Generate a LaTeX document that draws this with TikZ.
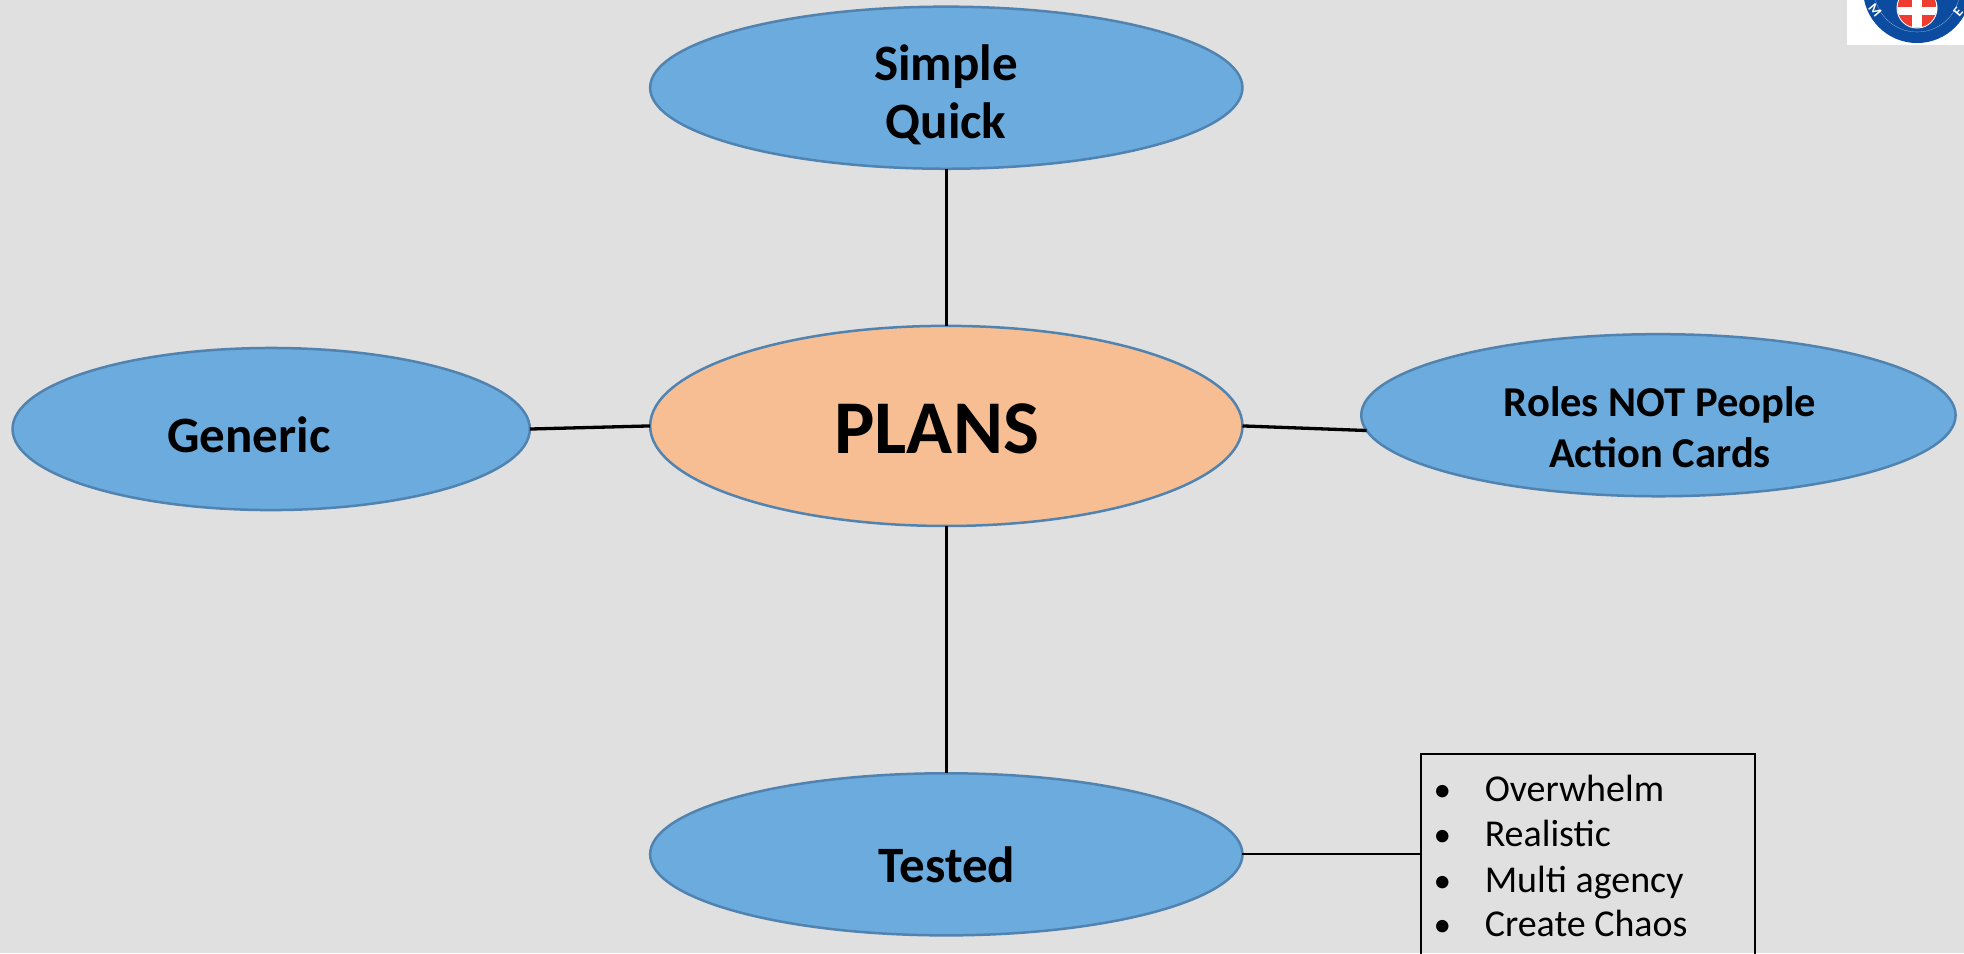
\documentclass[tikz,border=0pt]{standalone}
\usepackage{fontspec}
\usepackage{xcolor}
\setmainfont{Carlito}
\usetikzlibrary{shapes.geometric}
\definecolor{pagegray}{HTML}{E0E0E0}
\definecolor{ovalblue}{HTML}{6CABDD}
\definecolor{ovalline}{HTML}{5083AF}
\definecolor{ovalorange}{HTML}{F7BE94}
\definecolor{crestblue}{HTML}{0B4CA0}
\definecolor{crestred}{HTML}{EE3D30}

\begin{document}
\begin{tikzpicture}[x=0.01cm,y=-0.01cm,
	oval/.style={ellipse,draw=ovalline,fill=ovalblue,line width=0.25mm,inner sep=0,outer sep=0,minimum width=5.92cm,minimum height=1.62cm},
	label14/.style={anchor=base,font=\fontsize{14.5pt}{0}\selectfont\bfseries},
	label11/.style={anchor=base,font=\fontsize{12.1pt}{0}\selectfont\bfseries},
	item/.style={anchor=base west,font=\fontsize{10.8pt}{0}\selectfont},
	spoke/.style={line width=0.33mm}]

	\useasboundingbox (0,0) rectangle (1964,953);
	\clip (0,0) rectangle (1964,953);
	\fill[pagegray] (0,0) rectangle (1964,953);

	% crest in the corner
	\fill[white] (1847,0) rectangle (1964,44.7);
	\fill[crestblue] (1917,-11) circle (54);
	\draw[white,line width=0.01mm] (1917,-11) circle (43);
	\fill[white] (1917,8) circle (20.5);
	\begin{scope}
		\clip (1917,8) circle (19.5);
		\fill[crestred] (1897,-12) rectangle (1937,28);
		\fill[white] (1911.5,-12) rectangle (1922,28);
		\fill[white] (1897,7) rectangle (1937,15);
	\end{scope}
	\node[rotate=-50,text=white,font=\fontsize{4pt}{0}\selectfont\bfseries,inner sep=0] (crestm) at (1875,10) {M};
	\node[rotate=50,text=white,font=\fontsize{4pt}{0}\selectfont\bfseries,inner sep=0] (creste) at (1958,12) {E};

	% ovals
	\node[oval,fill=ovalorange,minimum height=2cm] (plans) at (946.3,425.9) {};
	\node[oval] (simple) at (946.3,87.7) {};
	\node[oval,minimum width=5.17cm] (generic) at (271.2,429) {};
	\node[oval,minimum width=5.94cm] (roles) at (1658.4,415.2) {};
	\node[oval] (tested) at (946.3,854.3) {};

	% spokes
	\draw[spoke] (simple) -- (plans);
	\draw[spoke] (plans) -- (tested);
	\draw[spoke] (generic.east) -- (plans.west);
	\draw[spoke] (plans.east) -- (roles.183.7);

	% labels
	\node[anchor=base,font=\fontsize{21.6pt}{0}\selectfont\bfseries] (planstext) at (936.7,453.5) {PLANS};
	\node[label14] (simpletext) at (946,80) {Simple};
	\node[label14] (quicktext) at (946,138) {Quick};
	\node[label14] (generictext) at (249,452) {Generic};
	\node[label14] (testedtext) at (947,882) {Tested};
	\node[label11] (rolestext) at (1660,416) {Roles NOT People};
	\node[label11] (cardstext) at (1660,467) {Action Cards};

	% box with the list
	\node[draw,line width=0.2mm,inner sep=0,outer sep=0,minimum width=3.34cm,minimum height=2.46cm] (listbox) at (1587.6,877) {};
	\draw[line width=0.2mm] (tested.east) -- (tested.east -| listbox.west);
	\foreach \i/\txt/\ypos in {1/Overwhelm/801.5,2/Realistic/846.5,3/Multi agency/892.5,4/Create Chaos/936.5}
		\node[item,inner sep=0] (item\i) at (1433,\ypos) {\makebox[0.51cm][l]{\normalsize •}\txt};

\end{tikzpicture}
\end{document}
